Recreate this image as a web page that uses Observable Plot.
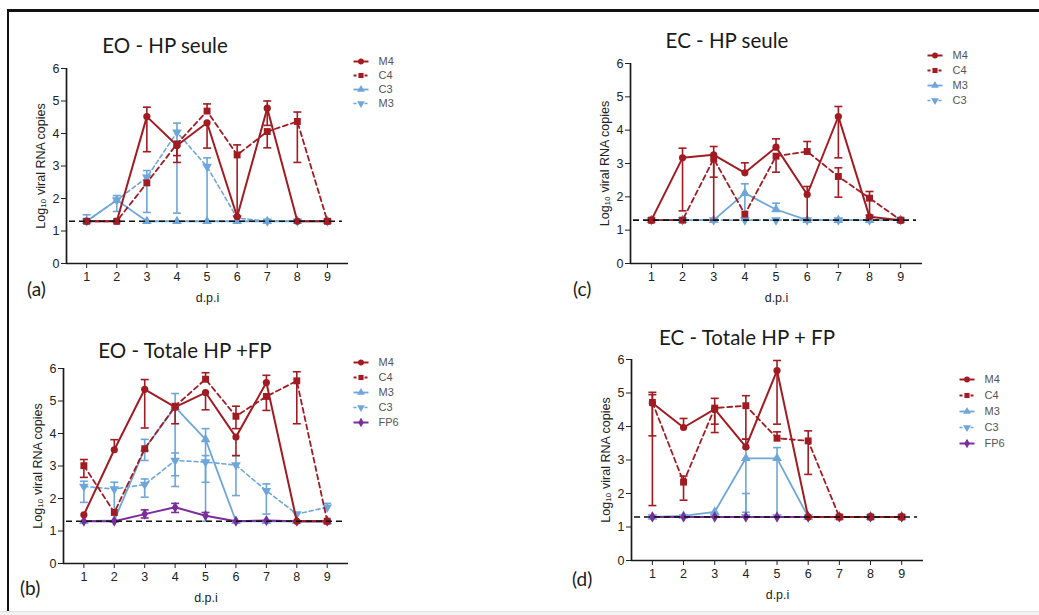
<!DOCTYPE html>
<html>
<head>
<meta charset="utf-8">
<script src="https://cdn.jsdelivr.net/npm/d3@7"></script>
<script src="https://cdn.jsdelivr.net/npm/@observablehq/plot@0.6"></script>
<style>
  html, body { margin: 0; padding: 0; background: #fff; }
  #root { position: relative; width: 1039px; height: 615px; overflow: hidden; background: #fff; }
  .abs { position: absolute; }
  .title { font-family: Lato, "Open Sans", sans-serif; font-size: 20.5px; color: #1a1a1a; white-space: nowrap; transform: translate(-50%, -50%); }
  .plabel { font-family: Lato, "Open Sans", sans-serif; font-size: 19px; color: #1a1a1a; transform: translateY(-50%); }
</style>
</head>
<body>
<div id="root"></div>
<script>
// ---------- DATA ----------
const dpi = [1, 2, 3, 4, 5, 6, 7, 8, 9];
const yTicks = [0, 1, 2, 3, 4, 5, 6];
const lod = 1.3;
const xLabel = "d.p.i";
const yLabel = "Log₁₀ viral RNA copies";
const titles = ["EO - HP seule", "EO - Totale HP +FP", "EC - HP seule", "EC - Totale HP + FP"];
const panelLabels = ["(a)", "(b)", "(c)", "(d)"];

// Panel (a) EO - HP seule
const aM4   = [1.3, 1.3, 4.52, 3.63, 4.33, 1.44, 4.78, 1.3, 1.3];
const aM4Lo = [null, null, 3.44, 3.11, 3.55, null, 4.25, null, null];
const aM4Hi = [null, null, 4.81, null, null, null, 5.0, null, null];
const aC4   = [1.3, 1.3, 2.48, 3.68, 4.69, 3.34, 4.06, 4.37, 1.3];
const aC4Lo = [null, null, null, 3.32, null, 1.45, 3.56, 3.11, null];
const aC4Hi = [null, null, null, null, 4.91, 3.65, null, 4.66, null];
const aC3   = [1.3, 1.95, 1.3, 1.3, 1.3, 1.3, 1.3, 1.3, 1.3];
const aC3Lo = [null, 1.6, null, null, null, null, null, null, null];
const aC3Hi = [1.5, 2.09, null, null, null, null, null, null, null];
const aM3   = [1.3, 1.95, 2.65, 4.04, 2.98, 1.4, 1.3, 1.3, 1.3];
const aM3Lo = [null, null, 1.57, 1.55, 1.3, null, null, null, null];
const aM3Hi = [null, null, 2.86, 4.32, 3.25, null, null, null, null];

// Panel (b) EO - Totale HP +FP
const bM4   = [1.5, 3.5, 5.36, 4.81, 5.26, 3.89, 5.57, 1.3, 1.3];
const bM4Lo = [null, null, 4.17, 4.3, 4.73, 3.32, null, null, null];
const bM4Hi = [null, 3.81, 5.66, null, null, null, 5.79, null, null];
const bC4   = [3.01, 1.57, 3.53, 4.84, 5.67, 4.53, 5.14, 5.62, 1.3];
const bC4Lo = [2.65, null, null, null, null, 4.15, 4.71, 4.3, null];
const bC4Hi = [3.2, null, null, null, 5.87, 4.84, null, 5.9, null];
const bM3   = [1.3, 1.33, 3.53, 4.81, 3.82, 1.3, 1.3, 1.3, 1.3];
const bM3Lo = [null, null, 3.17, 2.7, 1.3, null, null, null, null];
const bM3Hi = [null, null, 3.82, 5.23, 4.15, null, null, null, null];
const bC3   = [2.37, 2.29, 2.43, 3.17, 3.12, 3.03, 2.24, 1.52, 1.73];
const bC3Lo = [1.88, 1.3, 2.04, 2.37, 2.5, 2.09, 1.52, null, null];
const bC3Hi = [2.53, 2.5, 2.6, 3.4, 3.32, 3.32, 2.45, null, 1.85];
const bFP6   = [1.3, 1.3, 1.52, 1.73, 1.47, 1.3, 1.32, 1.3, 1.3];
const bFP6Lo = [null, null, 1.4, 1.57, null, null, null, null, null];
const bFP6Hi = [null, null, 1.65, 1.85, 1.57, null, null, null, null];

// Panel (c) EC - HP seule
const cM4   = [1.3, 3.17, 3.26, 2.72, 3.49, 2.07, 4.41, 1.4, 1.3];
const cM4Lo = [null, 1.58, 1.3, null, null, 1.3, 3.17, null, null];
const cM4Hi = [null, 3.46, 3.51, 3.02, 3.74, 2.31, 4.71, null, null];
const cC4   = [1.3, 1.3, 3.14, 1.48, 3.22, 3.36, 2.61, 1.96, 1.3];
const cC4Lo = [null, null, 2.59, null, 2.74, null, 1.99, 1.45, null];
const cC4Hi = [null, null, null, null, null, 3.66, 2.87, 2.16, null];
const cM3   = [1.3, 1.3, 1.3, 2.11, 1.62, 1.3, 1.3, 1.3, 1.3];
const cM3Lo = [null, null, null, 1.3, null, null, null, null, null];
const cM3Hi = [null, null, null, 2.39, 1.81, null, null, null, null];
const cC3   = [1.3, 1.3, 1.3, 1.3, 1.3, 1.3, 1.3, 1.3, 1.3];

// Panel (d) EC - Totale HP + FP
const dM4   = [4.70, 3.97, 4.52, 3.39, 5.67, 1.3, 1.3, 1.3, 1.3];
const dM4Lo = [1.64, null, 3.82, null, 4.07, null, null, null, null];
const dM4Hi = [5.02, 4.24, null, 3.62, 5.97, null, null, null, null];
const dC4   = [4.72, 2.34, 4.55, 4.62, 3.65, 3.57, 1.3, 1.3, 1.3];
const dC4Lo = [3.72, 1.8, 4.07, 3.62, null, 2.57, null, null, null];
const dC4Hi = [4.95, 2.52, 4.84, 4.92, 3.84, 3.87, null, null, null];
const dM3   = [1.3, 1.33, 1.45, 3.05, 3.05, 1.3, 1.3, 1.3, 1.3];
const dM3Lo = [null, null, null, 1.44, 1.3, null, null, null, null];
const dM3Hi = [null, null, null, 3.37, 3.37, null, null, null, null];
const dC3   = [1.3, 1.3, 1.3, 1.3, 1.3, 1.3, 1.3, 1.3, 1.3];
const dC3Hi = [null, null, null, 2.0, null, null, null, null, null];
const dFP6  = [1.3, 1.3, 1.3, 1.3, 1.3, 1.3, 1.3, 1.3, 1.3];

// ---------- STYLES ----------
const RED = "#a01c22", BLUE = "#6ea6d9", PURPLE = "#7b2d9c";
const sqrt3 = Math.sqrt(3);
const triDown = { draw(ctx, size) { const y = -Math.sqrt(size / (sqrt3 * 3)); ctx.moveTo(0, -y * 2); ctx.lineTo(-sqrt3 * y, y); ctx.lineTo(sqrt3 * y, y); ctx.closePath(); } };
const capSym = { draw(ctx, size) { const w = Math.sqrt(size) / 2; ctx.moveTo(-w, 0); ctx.lineTo(w, 0); } };
const styles = {
  redSolid:   { color: RED, dash: null, symbol: "circle", r: 3.6, width: 2 },
  redDashed:  { color: RED, dash: "5,3.5", symbol: "square", r: 3.9, width: 1.8 },
  blueSolid:  { color: BLUE, dash: null, symbol: "triangle", r: 3.6, width: 1.8 },
  blueDashed: { color: BLUE, dash: "4,3", symbol: triDown, r: 3.6, width: 1.6 },
  purple:     { color: PURPLE, dash: null, symbol: "diamond", r: 3.4, width: 2 }
};

const panels = [
  { key: "a", left: 21, top: 58, fl: 66, fr: 348, ft: 68, fb: 263,
    titleX: 165, titleY: 45, lgX: 353, lgY: 53, lgStep: 19, labX: 27, labY: 288,
    series: [
      { name: "M4", style: "redSolid", v: aM4, lo: aM4Lo, hi: aM4Hi },
      { name: "C4", style: "redDashed", v: aC4, lo: aC4Lo, hi: aC4Hi },
      { name: "C3", style: "blueSolid", v: aC3, lo: aC3Lo, hi: aC3Hi },
      { name: "M3", style: "blueDashed", v: aM3, lo: aM3Lo, hi: aM3Hi }
    ] },
  { key: "b", left: 18, top: 358, fl: 63, fr: 348, ft: 368, fb: 563,
    titleX: 185, titleY: 350, lgX: 353, lgY: 353, lgStep: 19.5, labX: 20, labY: 587,
    series: [
      { name: "M4", style: "redSolid", v: bM4, lo: bM4Lo, hi: bM4Hi },
      { name: "C4", style: "redDashed", v: bC4, lo: bC4Lo, hi: bC4Hi },
      { name: "M3", style: "blueSolid", v: bM3, lo: bM3Lo, hi: bM3Hi },
      { name: "C3", style: "blueDashed", v: bC3, lo: bC3Lo, hi: bC3Hi },
      { name: "FP6", style: "purple", v: bFP6, lo: bFP6Lo, hi: bFP6Hi }
    ] },
  { key: "c", left: 585, top: 53, fl: 630, fr: 922, ft: 63, fb: 263,
    titleX: 727, titleY: 40, lgX: 927, lgY: 47, lgStep: 20, labX: 573, labY: 288,
    series: [
      { name: "M4", style: "redSolid", v: cM4, lo: cM4Lo, hi: cM4Hi },
      { name: "C4", style: "redDashed", v: cC4, lo: cC4Lo, hi: cC4Hi },
      { name: "M3", style: "blueSolid", v: cM3, lo: cM3Lo, hi: cM3Hi },
      { name: "C3", style: "blueDashed", v: cC3, lo: null, hi: null }
    ] },
  { key: "d", left: 586, top: 349, fl: 631, fr: 923, ft: 359, fb: 560,
    titleX: 747, titleY: 337, lgX: 959, lgY: 369, lgStep: 21, labX: 572, labY: 578,
    series: [
      { name: "M4", style: "redSolid", v: dM4, lo: dM4Lo, hi: dM4Hi },
      { name: "C4", style: "redDashed", v: dC4, lo: dC4Lo, hi: dC4Hi },
      { name: "M3", style: "blueSolid", v: dM3, lo: dM3Lo, hi: dM3Hi },
      { name: "C3", style: "blueDashed", v: dC3, lo: null, hi: dC3Hi },
      { name: "FP6", style: "purple", v: dFP6, lo: null, hi: null }
    ] }
];

const root = document.getElementById("root");
function place(el, x, y, cls) {
  const d = document.createElement("div");
  d.className = "abs" + (cls ? " " + cls : "");
  d.style.left = x + "px"; d.style.top = y + "px";
  if (typeof el === "string") d.textContent = el; else d.appendChild(el);
  root.appendChild(d);
  return d;
}

// frame lines of the figure
const topLine = document.createElement("div");
topLine.style.cssText = "position:absolute;left:7px;top:9px;width:1032px;height:3px;background:#111";
root.appendChild(topLine);
const leftLine = document.createElement("div");
leftLine.style.cssText = "position:absolute;left:7px;top:9px;width:2px;height:603px;background:#111";
root.appendChild(leftLine);
const botLine = document.createElement("div");
botLine.style.cssText = "position:absolute;left:0px;top:611px;width:1039px;height:4px;background:#f2f2f2;border-top:1px solid #e2e2e2";
root.appendChild(botLine);

const panelIndex = { a: 0, b: 1, c: 2, d: 3 };

panels.forEach(p => {
  const ML = p.fl - p.left, MT = p.ft - p.top, MR = 10, MB = 48;
  const width = ML + (p.fr - p.fl) + MR;
  const height = MT + (p.fb - p.ft) + MB;
  const marks = [];
  // axis lines
  marks.push(Plot.ruleY([0], { stroke: "#1a1a1a", strokeWidth: 1.7 }));
  marks.push(Plot.ruleX([0.33], { stroke: "#1a1a1a", strokeWidth: 1.7 }));
  // series: draw blue first, then purple, then red
  const order = ["blueDashed", "blueSolid", "purple", "redDashed", "redSolid"];
  const sorted = [...p.series].sort((u, w) => order.indexOf(u.style) - order.indexOf(w.style));
  sorted.forEach(s => {
    const st = styles[s.style];
    const rows = dpi.map((d, i) => ({ dpi: d, v: s.v[i], lo: s.lo ? s.lo[i] : null, hi: s.hi ? s.hi[i] : null }));
    const err = rows.filter(r => r.lo != null || r.hi != null);
    marks.push(Plot.ruleX(err, { x: "dpi", y1: r => r.lo ?? r.v, y2: r => r.hi ?? r.v, stroke: st.color, strokeWidth: 1.6 }));
    marks.push(Plot.dot(err.filter(r => r.lo != null), { x: "dpi", y: "lo", symbol: capSym, r: 4.5, stroke: st.color, strokeWidth: 1.6 }));
    marks.push(Plot.dot(err.filter(r => r.hi != null), { x: "dpi", y: "hi", symbol: capSym, r: 4.5, stroke: st.color, strokeWidth: 1.6 }));
    marks.push(Plot.line(rows, { x: "dpi", y: "v", stroke: st.color, strokeWidth: st.width, strokeDasharray: st.dash || undefined }));
    marks.push(Plot.dot(rows, { x: "dpi", y: "v", symbol: st.symbol, r: st.r, fill: st.color, stroke: "none" }));
  });
  // limit of detection
  marks.push(Plot.ruleY([lod], { stroke: "#111", strokeWidth: 1.6, strokeDasharray: "6,4", insetLeft: 3, insetRight: 6 }));
  marks.push(Plot.axisX({ ticks: dpi, tickFormat: d => String(d), tickSize: 5, tickPadding: 4, label: xLabel, labelAnchor: "center", labelOffset: 38, labelArrow: false, fontSize: 12.5 }));
  marks.push(Plot.axisY({ ticks: yTicks, tickFormat: d => String(d), tickSize: 5, tickPadding: 2, label: yLabel, labelAnchor: "center", labelOffset: 30, labelArrow: false, fontSize: 12.5 }));

  const chart = Plot.plot({
    width, height,
    marginLeft: ML, marginTop: MT, marginRight: MR, marginBottom: MB,
    x: { domain: [0.33, 9.7] },
    y: { domain: [0, 6] },
    style: { fontFamily: '"Liberation Sans", Arial, sans-serif', fontSize: "12px", color: "#222", background: "transparent", overflow: "visible" },
    marks
  });
  place(chart, p.left, p.top);

  // title and panel label
  place(titles[panelIndex[p.key]], p.titleX, p.titleY, "title");
  place(panelLabels[panelIndex[p.key]], p.labX, p.labY, "plabel");

  // legend
  const names = p.series.map(s => s.name);
  const n = names.length;
  const lgMarks = [];
  p.series.forEach(s => {
    const st = styles[s.style];
    lgMarks.push(Plot.link([s], { x1: 0, x2: 15, y1: "name", y2: "name", stroke: st.color, strokeWidth: st.width, strokeDasharray: st.dash ? "3,2.5" : undefined }));
    lgMarks.push(Plot.dot([s], { x: 7.5, y: "name", symbol: st.symbol, r: 2.9, fill: st.color, stroke: "none" }));
  });
  lgMarks.push(Plot.text(p.series, { x: 25, y: "name", text: "name", textAnchor: "start", fontSize: 11, fill: "#555" }));
  const legend = Plot.plot({
    width: 70, height: 12 + (n - 1) * p.lgStep + 12,
    margin: 0,
    x: { domain: [0, 70], range: [0, 70], axis: null },
    y: { type: "point", domain: names, range: [12, 12 + (n - 1) * p.lgStep], axis: null },
    style: { fontFamily: '"Liberation Sans", Arial, sans-serif', background: "transparent", overflow: "visible" },
    marks: lgMarks
  });
  place(legend, p.lgX, p.lgY - 12);
});
</script>
</body>
</html>
